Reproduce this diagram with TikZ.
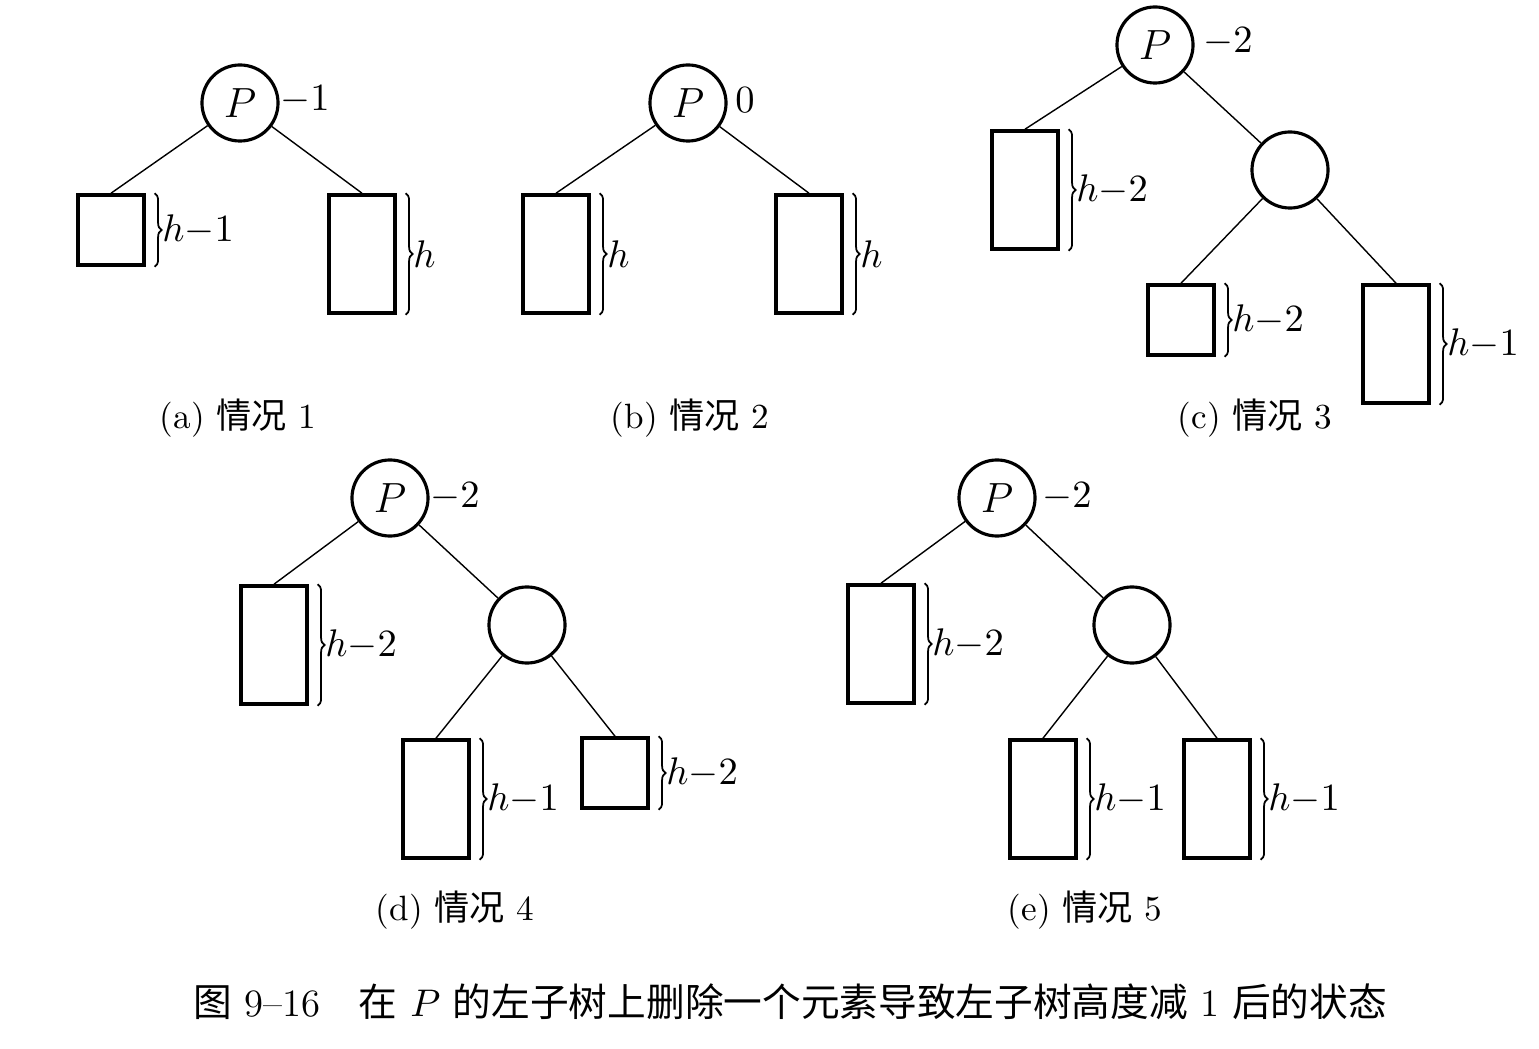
\documentclass[tikz,border=0pt]{standalone}
\usepackage{fontspec}
\newfontfamily\cjk{Noto Sans CJK SC}
\usetikzlibrary{positioning,decorations.pathreplacing}
\tikzset{
  circ/.style={circle,draw,line width=0.9pt,minimum size=0.76cm,inner sep=0pt,font=\fontsize{12}{14}\selectfont},
  sbox/.style={rectangle,draw,line width=1pt,minimum width=0.66cm,minimum height=0.70cm,inner sep=0pt},
  tbox/.style={rectangle,draw,line width=1pt,minimum width=0.66cm,minimum height=1.18cm,inner sep=0pt},
  brc/.style={decorate,decoration={brace,amplitude=2pt},line width=0.5pt},
  lbl/.style={font=\fontsize{11}{13}\selectfont,inner sep=1pt},
  captxt/.style={font=\fontsize{10}{12}\selectfont}
}
\newcommand{\hbrace}[2]{\draw[brc] ([xshift=2.5pt]#1.north east) -- ([xshift=2.5pt]#1.south east) node[midway,right=1pt,lbl] {#2};}
\begin{document}
\begin{tikzpicture}[x=0.01cm,y=-0.01cm]
\useasboundingbox (0,0) rectangle (1539,1049);
% (a)
\node[circ] (pa) at (240,103) {$P$};
\node[lbl] at (305,100) {${-}1$};
\node[sbox] (al) at (111,230) {};
\node[tbox] (ar) at (362,254) {};
\draw (pa) -- (al.north) (pa) -- (ar.north);
\hbrace{al}{$h{-}1$}
\hbrace{ar}{$h$}
\node[captxt] at (238,418) {(a) {\cjk 情况} 1};
% (b)
\node[circ] (pb) at (688,103) {$P$};
\node[lbl] at (745,100) {$0$};
\node[tbox] (bl) at (556,254) {};
\node[tbox] (br) at (809,254) {};
\draw (pb) -- (bl.north) (pb) -- (br.north);
\hbrace{bl}{$h$}
\hbrace{br}{$h$}
\node[captxt] at (690,418) {(b) {\cjk 情况} 2};
% (c)
\node[circ] (pc) at (1155,45) {$P$};
\node[lbl] at (1228,42) {${-}2$};
\node[tbox] (cl) at (1025,190) {};
\node[circ] (qc) at (1290,170) {};
\node[sbox] (cm) at (1181,320) {};
\node[tbox] (cr) at (1396,344) {};
\draw (pc) -- (cl.north) (pc) -- (qc) (qc) -- (cm.north) (qc) -- (cr.north);
\hbrace{cl}{$h{-}2$}
\hbrace{cm}{$h{-}2$}
\hbrace{cr}{$h{-}1$}
\node[captxt] at (1255,418) {(c) {\cjk 情况} 3};
% (d)
\node[circ] (pd) at (390,498) {$P$};
\node[lbl] at (455,497) {${-}2$};
\node[tbox] (dl) at (274,645) {};
\node[circ] (qd) at (527,625) {};
\node[tbox] (dm) at (436,799) {};
\node[sbox] (dr) at (615,773) {};
\draw (pd) -- (dl.north) (pd) -- (qd) (qd) -- (dm.north) (qd) -- (dr.north);
\hbrace{dl}{$h{-}2$}
\hbrace{dm}{$h{-}1$}
\hbrace{dr}{$h{-}2$}
\node[captxt] at (455,910) {(d) {\cjk 情况} 4};
% (e)
\node[circ] (pe) at (997,498) {$P$};
\node[lbl] at (1067,497) {${-}2$};
\node[tbox] (el) at (881,644) {};
\node[circ] (qe) at (1132,625) {};
\node[tbox] (em) at (1043,799) {};
\node[tbox] (er) at (1217,799) {};
\draw (pe) -- (el.north) (pe) -- (qe) (qe) -- (em.north) (qe) -- (er.north);
\hbrace{el}{$h{-}2$}
\hbrace{em}{$h{-}1$}
\hbrace{er}{$h{-}1$}
\node[captxt] at (1085,910) {(e) {\cjk 情况} 5};
\node[captxt,font=\fontsize{11}{13}\selectfont] at (790,1002) {{\cjk 图} 9--16\quad{\cjk 在} $P$ {\cjk 的左子树上删除一个元素导致左子树高度减} 1 {\cjk 后的状态}};
\end{tikzpicture}
\end{document}
